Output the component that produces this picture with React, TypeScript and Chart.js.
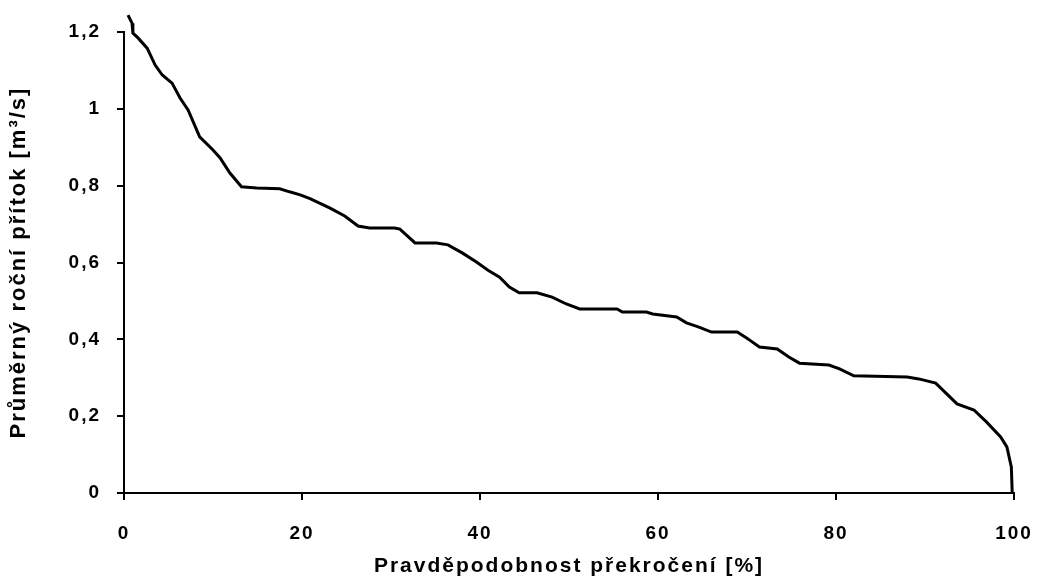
import React, { useEffect, useRef } from "react";
import { Chart, registerables } from "chart.js";

Chart.register(...registerables);

const probability: number[] = [
  0.45, 0.9, 1.0, 1.6, 2.6, 3.5, 4.3, 5.4, 6.3, 7.2, 8.5, 10.0, 10.8, 11.9, 13.2, 14.9, 17.5, 18.6, 19.8, 20.9,
  23.1, 24.8, 26.3, 27.6, 30.4, 31.0, 32.7, 35.1, 36.4, 38.0, 39.6, 40.9, 42.2, 43.3, 44.4, 46.4, 48.1, 49.7,
  51.2, 55.4, 56.0, 58.7, 59.4, 62.1, 63.2, 64.6, 66.0, 68.9, 70.0, 70.3, 71.4, 73.4, 74.7, 75.9, 79.2, 80.4,
  82.0, 88.0, 89.3, 91.2, 93.6, 95.5, 96.9, 98.5, 99.2, 99.7, 99.8,
];

const inflow: number[] = [
  1.244, 1.223, 1.197, 1.184, 1.158, 1.114, 1.088, 1.067, 1.028, 0.997, 0.927, 0.893, 0.872, 0.833, 0.797, 0.794,
  0.792, 0.784, 0.776, 0.766, 0.742, 0.721, 0.695, 0.69, 0.69, 0.687, 0.651, 0.651, 0.646, 0.625, 0.601, 0.58,
  0.562, 0.536, 0.521, 0.521, 0.51, 0.492, 0.479, 0.479, 0.471, 0.471, 0.466, 0.458, 0.443, 0.432, 0.419, 0.419,
  0.403, 0.398, 0.38, 0.375, 0.354, 0.338, 0.333, 0.323, 0.305, 0.302, 0.297, 0.286, 0.232, 0.216, 0.185, 0.146,
  0.12, 0.068, 0.0,
];

const xTicks: number[] = [0, 20, 40, 60, 80, 100];
const yTicks: number[] = [0, 0.2, 0.4, 0.6, 0.8, 1, 1.2];

const xTitle = "Pravděpodobnost překročení [%]";
const yTitle = "Průměrný roční přítok [m³/s]";

const FONT = "'Liberation Sans', Arial, sans-serif";

const letterSpacingPlugin = {
  id: "letterSpacing",
  beforeLayout(chart: any) {
    (chart.ctx as any).letterSpacing = "2px";
  },
  beforeDraw(chart: any) {
    (chart.ctx as any).letterSpacing = "2px";
  },
};

export default function App() {
  const ref = useRef<HTMLCanvasElement>(null);

  useEffect(() => {
    if (!ref.current) return;
    const chart = new Chart(ref.current, {
      type: "line",
      data: {
        datasets: [
          {
            data: probability.map((x, i) => ({ x, y: inflow[i] })),
            borderColor: "#000",
            borderWidth: 3,
            pointRadius: 0,
            tension: 0,
            fill: false,
            clip: false as any,
          },
        ],
      },
      options: {
        animation: false,
        responsive: true,
        maintainAspectRatio: false,
        layout: { padding: { top: 32, right: 24, left: 6, bottom: 0 } },
        plugins: { legend: { display: false }, tooltip: { enabled: false } },
        scales: {
          x: {
            type: "linear",
            min: 0,
            max: 100,
            afterFit(scale: any) {
              scale.height = 581 - 493;
              scale.paddingRight = 0;
              scale.paddingLeft = 0;
            },
            afterBuildTicks(scale: any) {
              scale.ticks = xTicks.map((v) => ({ value: v }));
            },
            border: { display: true, color: "#000", width: 2 },
            grid: { display: true, drawOnChartArea: false, drawTicks: true, tickLength: 7, color: "#000", lineWidth: 2 },
            ticks: {
              color: "#000",
              padding: 22,
              maxRotation: 0,
              font: { family: FONT, size: 19, weight: "bold" },
              callback: (v: any) => String(v),
            },
            title: {
              display: true,
              text: xTitle,
              color: "#000",
              font: { family: FONT, size: 21, weight: "bold" },
              padding: { top: 0, bottom: 2 },
            },
          },
          y: {
            type: "linear",
            min: 0,
            max: 1.2,
            afterFit(scale: any) {
              scale.width = 124 - 6;
              scale.paddingTop = 0;
              scale.paddingBottom = 0;
            },
            afterBuildTicks(scale: any) {
              scale.ticks = yTicks.map((v) => ({ value: v }));
            },
            border: { display: true, color: "#000", width: 2 },
            grid: { display: true, drawOnChartArea: false, drawTicks: true, tickLength: 7, color: "#000", lineWidth: 2 },
            ticks: {
              color: "#000",
              padding: 16,
              font: { family: FONT, size: 19, weight: "bold" },
              callback: (v: any) => String(Math.round(Number(v) * 10) / 10).replace(".", ","),
            },
            title: {
              display: true,
              text: yTitle,
              color: "#000",
              font: { family: FONT, size: 22, weight: "bold" },
              padding: { top: 0, bottom: 0 },
            },
          },
        },
      },
      plugins: [letterSpacingPlugin],
    });
    return () => chart.destroy();
  }, []);

  return (
    <div style={{ position: "fixed", left: 0, top: 0, width: 1038, height: 581, background: "#fff" }}>
      <canvas ref={ref} />
    </div>
  );
}
